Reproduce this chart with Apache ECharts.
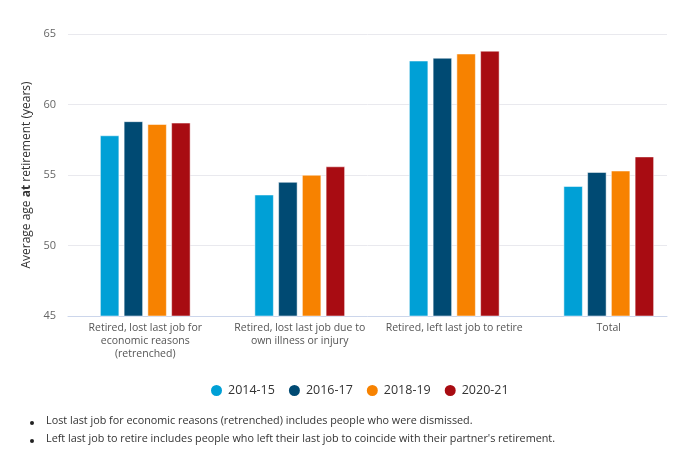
<!DOCTYPE html>
<html><head><meta charset="utf-8">
<script src="https://cdn.jsdelivr.net/npm/echarts@6/dist/echarts.min.js"></script>
<style>html,body{margin:0;padding:0;background:#fff}#c{width:686px;height:458px}</style>
</head><body><div id="c"></div>
<script>
const categories = [
  "Retired, lost last job for\neconomic reasons\n(retrenched)",
  "Retired, lost last job due to\nown illness or injury",
  "Retired, left last job to retire",
  "Total"
];
const seriesNames = ["2014-15", "2016-17", "2018-19", "2020-21"];
const v2014 = [57.8, 53.6, 63.1, 54.2];
const v2016 = [58.8, 54.5, 63.3, 55.2];
const v2018 = [58.6, 55.0, 63.6, 55.3];
const v2020 = [58.7, 55.6, 63.8, 56.3];
const yTicks = [45, 50, 55, 60, 65];
const footnotes = [
  "Lost last job for economic reasons (retrenched) includes people who were dismissed.",
  "Left last job to retire includes people who left their last job to coincide with their partner's retirement."
];
const colors = ["#00a0d6", "#004a73", "#f78200", "#a80c12"];
const values = [v2014, v2016, v2018, v2020];

const chart = echarts.init(document.getElementById('c'));
const font = '"Open Sans", "Noto Sans", sans-serif';
const graphic = [];
footnotes.forEach((t, i) => {
  graphic.push({type:'circle', left: 30, top: 421 + i*18, shape:{r:2}, style:{fill:'#222'}});
  graphic.push({type:'text', left: 46, top: 415.5 + i*18, style:{text:t, fill:'#333', font:'10.8px ' + font}});
});
const yMin = yTicks[0], yMax = yTicks[yTicks.length-1];
chart.setOption({
  textStyle:{fontFamily:font},
  color: colors,
  animation:false,
  grid:[
    {left:68, right:-3, top:34, bottom:142},
    {left:68, right:19, top:34, bottom:142}
  ],
  legend:{
    data: seriesNames, bottom: 55, left:204, icon:'circle', itemWidth:13, itemHeight:13, itemGap:12,
    textStyle:{fontSize:12.5, color:'#333', fontFamily:font}
  },
  xAxis:[{
    type:'category', data:categories, gridIndex:0,
    axisLine:{show:false}, axisTick:{show:false},
    axisLabel:{color:'#555', fontSize:10.5, lineHeight:13, interval:0, margin:6}
  },{
    type:'value', gridIndex:1, show:false
  },{
    type:'category', data:[''], gridIndex:1, position:'bottom',
    axisLine:{show:true, lineStyle:{color:'#ccd6eb'}}, axisTick:{show:false}, axisLabel:{show:false}
  }],
  yAxis:[{
    type:'value', gridIndex:0, min:yMin, max:yMax, interval:5,
    axisLabel:{show:false}, splitLine:{show:false}, axisLine:{show:false}, axisTick:{show:false}
  },{
    type:'value', gridIndex:1, min:yMin, max:yMax, interval:5,
    name:'{n|Average age }{b|at}{n| retirement (years)}', nameLocation:'middle', nameGap:35,
    nameTextStyle:{rich:{n:{fontSize:12, color:'#333', fontFamily:font}, b:{fontSize:12, color:'#333', fontWeight:'bold', fontFamily:font}}},
    axisLabel:{color:'#666', fontSize:11, margin:12},
    splitLine:{lineStyle:{color:'#e9e9ee'}},
    axisLine:{show:false}, axisTick:{show:false}
  }],
  series: seriesNames.map((n, i) => ({
    name:n, type:'bar', data: values[i], barWidth:19, barGap:'25%', xAxisIndex:0, yAxisIndex:0, z:3,
    itemStyle:{color:colors[i], borderColor:'#fff', borderWidth:0.5}
  })),
  graphic: graphic
});
</script></body></html>
